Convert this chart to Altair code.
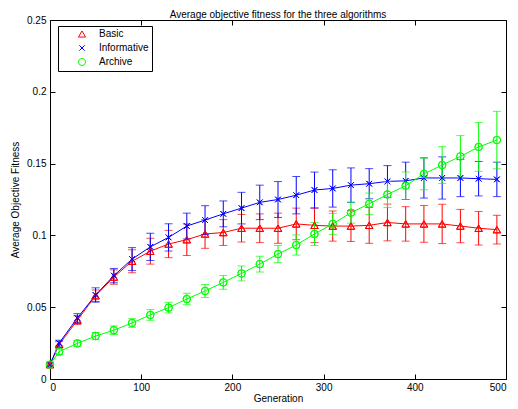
import altair as alt
import pandas as pd

generations = [0, 10, 30, 50, 70, 90, 110, 130, 150, 170, 190, 210, 230, 250,
               270, 290, 310, 330, 350, 370, 390, 410, 430, 450, 470, 490]

basic = [0.010, 0.024, 0.041, 0.058, 0.071, 0.082, 0.089, 0.094, 0.097, 0.101,
         0.102, 0.105, 0.105, 0.105, 0.108, 0.107, 0.1065, 0.1065, 0.107, 0.109,
         0.108, 0.108, 0.108, 0.1065, 0.105, 0.104]
basic_err = [0.001, 0.002, 0.003, 0.004, 0.005, 0.008, 0.009, 0.0095, 0.011, 0.010,
             0.009, 0.0096, 0.010, 0.0105, 0.011, 0.012, 0.0105, 0.0107, 0.0125, 0.0128,
             0.012, 0.0128, 0.0137, 0.0116, 0.0117, 0.010]

informative = [0.010, 0.025, 0.0425, 0.0585, 0.072, 0.0835, 0.092, 0.0986, 0.1065, 0.1107,
               0.115, 0.119, 0.123, 0.125, 0.128, 0.1316, 0.1327, 0.135, 0.136, 0.1376,
               0.138, 0.140, 0.140, 0.140, 0.1395, 0.139]
informative_err = [0.001, 0.002, 0.003, 0.005, 0.005, 0.008, 0.0095, 0.0095, 0.009, 0.010,
                   0.009, 0.011, 0.012, 0.0125, 0.013, 0.0125, 0.013, 0.012, 0.0105, 0.011,
                   0.013, 0.014, 0.0147, 0.013, 0.012, 0.012]

archive = [0.010, 0.019, 0.0248, 0.0299, 0.034, 0.039, 0.0446, 0.0497, 0.0557, 0.0613,
           0.0673, 0.0735, 0.080, 0.087, 0.0933, 0.101, 0.108, 0.1158, 0.122, 0.1285,
           0.1346, 0.1428, 0.149, 0.155, 0.1616, 0.1664]
archive_err = [0.001, 0.002, 0.002, 0.0025, 0.003, 0.003, 0.0037, 0.0037, 0.004, 0.0045,
               0.0048, 0.0052, 0.0055, 0.006, 0.007, 0.008, 0.0073, 0.0073, 0.0075, 0.009,
               0.0096, 0.011, 0.0128, 0.0145, 0.017, 0.020]

series_names = ["Basic", "Informative", "Archive"]
series_colors = ["#ff0000", "#0000ff", "#00ff00"]
series_shapes = ["triangle-up", "M-0.75,-0.75L0.75,0.75M-0.75,0.75L0.75,-0.75", "circle"]

x_ticks = [0, 100, 200, 300, 400, 500]
y_ticks = [0, 0.05, 0.1, 0.15, 0.2, 0.25]

rows = []
for name, vals, errs in [("Basic", basic, basic_err),
                         ("Informative", informative, informative_err),
                         ("Archive", archive, archive_err)]:
    for g, v, e in zip(generations, vals, errs):
        rows.append({"gen": g, "val": v, "lo": v - e, "hi": v + e, "series": name})
df = pd.DataFrame(rows)
ends = df.melt(id_vars=["gen", "series"], value_vars=["lo", "hi"], value_name="end")

FONT = "Liberation Sans"
xs = alt.Scale(domain=[0, 500], nice=False, zero=False)
ys = alt.Scale(domain=[0, 0.25], nice=False, zero=False)
cs = alt.Scale(domain=series_names, range=series_colors)
ss = alt.Scale(domain=series_names, range=series_shapes)

x_main = alt.X("gen:Q", scale=xs, title="Generation",
               axis=alt.Axis(values=x_ticks, format="d", tickSize=5, offset=-5,
                             labelPadding=3, titlePadding=1, domain=False, grid=False))
y_main = alt.Y("val:Q", scale=ys, title="Average Objective Fitness",
               axis=alt.Axis(values=y_ticks, format="~g", tickSize=5, offset=-5,
                             labelPadding=4, titlePadding=6, domain=False, grid=False))

layers = []
for name, col in zip(series_names, series_colors):
    sub = alt.Chart(df).transform_filter(alt.datum.series == name)
    layers.append(sub.mark_line(strokeWidth=1, color=col).encode(
        x=alt.X("gen:Q", scale=xs), y=alt.Y("val:Q", scale=ys)))
    layers.append(sub.mark_rule(strokeWidth=1, color=col).encode(
        x=alt.X("gen:Q", scale=xs), y=alt.Y("lo:Q", scale=ys), y2="hi:Q"))
    layers.append(alt.Chart(ends).transform_filter(alt.datum.series == name)
                  .mark_tick(orient="horizontal", size=8, thickness=1, color=col).encode(
        x=alt.X("gen:Q", scale=xs), y=alt.Y("end:Q", scale=ys)))

points = alt.Chart(df).mark_point(filled=False, size=55, strokeWidth=1, opacity=1).encode(
    x=x_main,
    y=y_main,
    color=alt.Color("series:N", scale=cs, title=None,
                    legend=alt.Legend(orient="none", legendX=8, legendY=6,
                                      strokeColor="black", fillColor="white",
                                      padding=3, symbolOffset=16, labelOffset=12,
                                      rowPadding=3, labelFontSize=10, labelFont=FONT,
                                      symbolSize=50, symbolStrokeWidth=1, labelColor="black")),
    shape=alt.Shape("series:N", scale=ss, title=None),
)

main = alt.layer(points, *layers, points)

frame = alt.Chart(df).mark_point(opacity=0).encode(
    x=alt.X("gen:Q", scale=xs,
            axis=alt.Axis(orient="top", values=x_ticks, labels=False, tickSize=5, offset=-5,
                          domain=False, grid=False, title=None)),
    y=alt.Y("val:Q", scale=ys,
            axis=alt.Axis(orient="right", values=y_ticks, labels=False, tickSize=5, offset=-5,
                          domain=False, grid=False, title=None)),
)

chart = alt.layer(main, frame).resolve_axis(x="independent", y="independent").properties(
    width=456, height=359,
    title=alt.Title("Average objective fitness for the three algorithms",
                    fontSize=10, fontWeight="normal", font=FONT, color="black", offset=-5),
    padding={"left": 42, "top": 12, "right": 4, "bottom": 27},
    autosize=alt.AutoSizeParams(type="none"),
).configure_view(stroke="black", strokeWidth=1).configure_axis(
    labelFont=FONT, titleFont=FONT, labelFontSize=10, titleFontSize=10,
    titleFontWeight="normal", labelColor="black", titleColor="black",
    tickColor="black", tickWidth=1,
)

chart.save("out.html", embed_options={"renderer": "svg", "actions": False})
